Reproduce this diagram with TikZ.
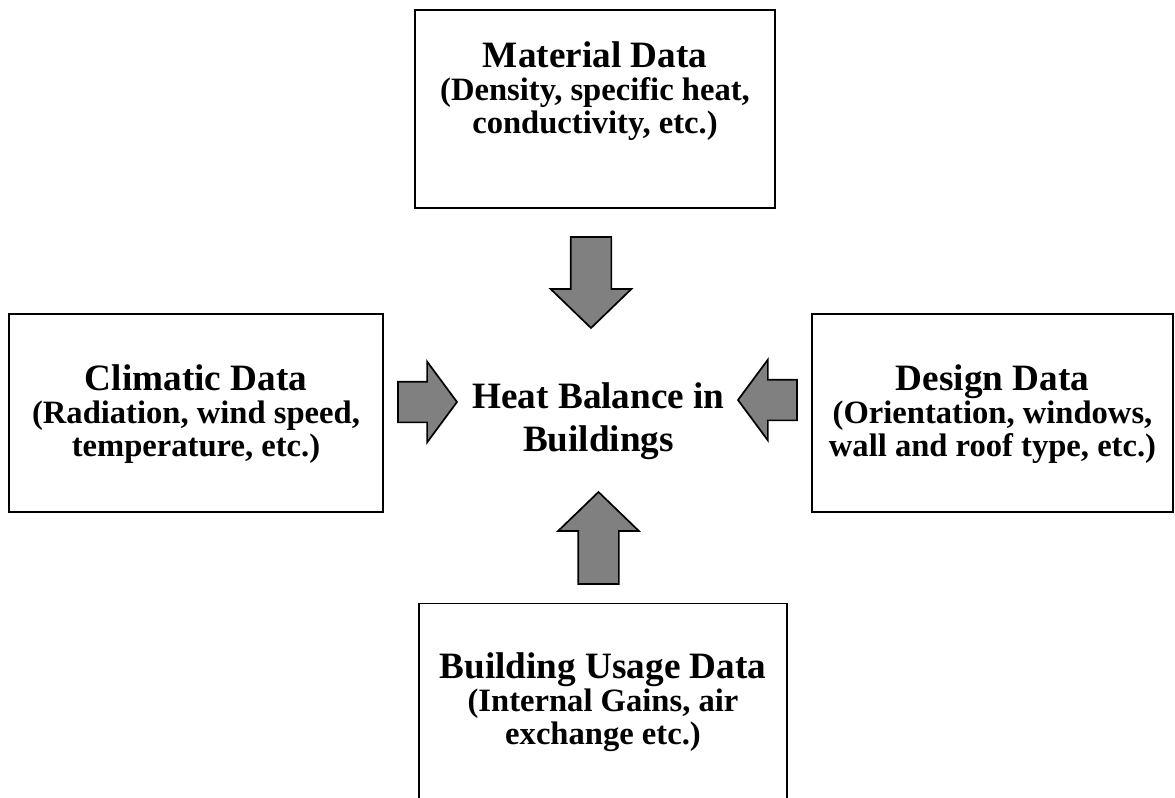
\documentclass[tikz,border=0pt]{standalone}
\usepackage{fontspec}
\setmainfont{Liberation Serif}
\usetikzlibrary{positioning, shapes.arrows}

\definecolor{arrowgray}{RGB}{128,128,128}

\tikzset{
    databox/.style={draw, line width=0.75pt, minimum height=99pt, inner sep=0pt},
    datatext/.style={align=center, inner sep=0pt, font=\bfseries\fontsize{16.3}{16.4}\selectfont},
    flowarrow/.style={single arrow, draw, line width=0.85pt, fill=arrowgray, inner xsep=0pt, inner ysep=9.75pt, outer sep=0pt, single arrow head extend=10pt},
}

\newcommand{\boxtitle}[1]{{\fontsize{18.6}{16.4}\selectfont #1}}

\begin{document}
\begin{tikzpicture}[x=0.5pt, y=-0.5pt]
    \useasboundingbox (0, 0) rectangle (1175, 798);

    \node[databox, minimum width=180pt] (material) at (595, 109) {};
    \node[databox, minimum width=187pt] (climatic) at (196, 413) {};
    \node[databox, minimum width=180.5pt] (design) at (992.5, 413) {};
    \node[databox, minimum width=184pt] (usage) at (603, 702.5) {};

    \node[datatext, below = 16pt of material.north] (materialtext) {\boxtitle{Material Data}\\(Density, specific heat,\\conductivity, etc.)};
    \node[datatext, below = 25.5pt of climatic.north] (climatictext) {\boxtitle{Climatic Data}\\(Radiation, wind speed,\\temperature, etc.)};
    \node[datatext, below = 25.5pt of design.north] (designtext) {\boxtitle{Design Data}\\(Orientation, windows,\\wall and roof type, etc.)};
    \node[datatext, below = 25pt of usage.north] (usagetext) {\boxtitle{Building Usage Data}\\(Internal Gains, air\\exchange etc.)};

    \node[anchor=north, align=center, inner sep=0pt, font=\bfseries\fontsize{18.6}{21.5}\selectfont] (heat) at (598.5, 382) {Heat Balance in\\Buildings};

    % block arrows pointing to the centre
    \node[flowarrow, anchor=tail, rotate=-90, minimum height=45.5pt, single arrow tip angle=92] (arrowM) at (591, 237) {};
    \node[flowarrow, anchor=tail, minimum height=29.5pt, single arrow tip angle=107] (arrowC) at (398, 402) {};
    \node[flowarrow, anchor=tail, rotate=180, minimum height=29.5pt, single arrow tip angle=107] (arrowD) at (797, 400) {};
    \node[flowarrow, anchor=tail, rotate=90, minimum height=46pt, single arrow tip angle=92] (arrowU) at (598.5, 584) {};
\end{tikzpicture}
\end{document}
